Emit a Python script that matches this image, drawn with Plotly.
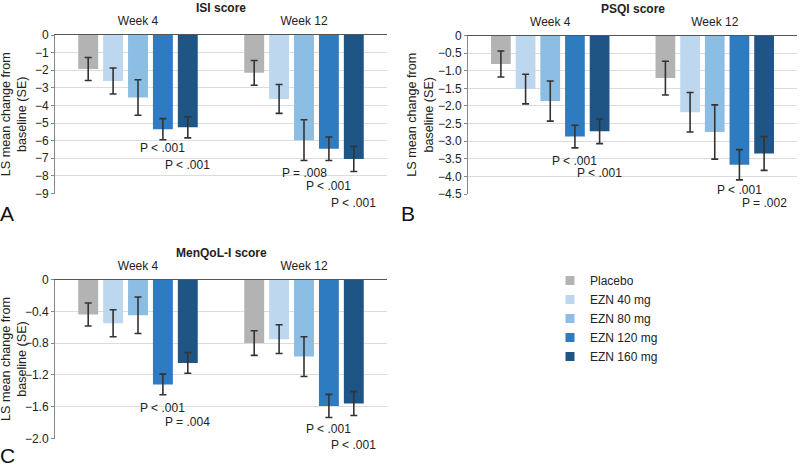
import plotly.graph_objects as go

W, H = 800, 467

weeks = ["Week 4", "Week 12"]
groups = ["Placebo", "EZN 40 mg", "EZN 80 mg", "EZN 120 mg", "EZN 160 mg"]
colors = ["#b3b3b3", "#bdd7ee", "#8cbde3", "#2e7bc0", "#1f5585"]

# LS mean change (per group: [Week 4, Week 12]) and SE
isi_mean = [[-1.93, -2.15], [-2.61, -3.63], [-3.55, -5.97], [-5.35, -6.46], [-5.24, -7.04]]
isi_se = [[0.65, 0.70], [0.74, 0.82], [1.01, 1.16], [0.60, 0.67], [0.60, 0.71]]
psqi_mean = [[-0.81, -1.21], [-1.52, -2.18], [-1.86, -2.74], [-2.87, -3.67], [-2.72, -3.35]]
psqi_se = [[0.37, 0.48], [0.42, 0.56], [0.57, 0.77], [0.32, 0.43], [0.35, 0.48]]
menq_mean = [[-0.44, -0.80], [-0.55, -0.75], [-0.45, -0.97], [-1.32, -1.59], [-1.05, -1.56]]
menq_se = [[0.145, 0.155], [0.17, 0.18], [0.23, 0.25], [0.13, 0.145], [0.13, 0.15]]

isi_ticks = [0, -1, -2, -3, -4, -5, -6, -7, -8, -9]
isi_ticktext = ["0", "−1", "−2", "−3", "−4", "−5", "−6", "−7", "−8", "−9"]
psqi_ticks = [0, -0.5, -1.0, -1.5, -2.0, -2.5, -3.0, -3.5, -4.0, -4.5]
psqi_ticktext = ["0", "−0.5", "−1.0", "−1.5", "−2.0", "−2.5", "−3.0", "−3.5", "−4.0", "−4.5"]
menq_ticks = [0, -0.4, -0.8, -1.2, -1.6, -2.0]
menq_ticktext = ["0", "−0.4", "−0.8", "−1.2", "−1.6", "−2.0"]

# P-value labels: (week, group index, text)
isi_p = [("Week 4", 3, "P < .001"), ("Week 4", 4, "P < .001"),
         ("Week 12", 2, "P = .008"), ("Week 12", 3, "P < .001"), ("Week 12", 4, "P < .001")]
psqi_p = [("Week 4", 3, "P < .001"), ("Week 4", 4, "P < .001"),
          ("Week 12", 3, "P < .001"), ("Week 12", 4, "P = .002")]
menq_p = [("Week 4", 3, "P < .001"), ("Week 4", 4, "P = .004"),
          ("Week 12", 3, "P < .001"), ("Week 12", 4, "P < .001")]

FONT = "Liberation Sans, Arial, sans-serif"
TXT = "#222222"

# layout (pixels)
panels = [
    dict(name="ISI score", means=isi_mean, ses=isi_se, ticks=isi_ticks, ticktext=isi_ticktext,
         rng=[-9, 0], px=(55, 387), py=(35, 193.5), pl=isi_p, p_y=[148, 165, 173, 186, 203],
         letter="A", lx=7, ly=213, ax="", ),
    dict(name="PSQI score", means=psqi_mean, ses=psqi_se, ticks=psqi_ticks, ticktext=psqi_ticktext,
         rng=[-4.5, 0], px=(468, 797), py=(35.5, 194), pl=psqi_p, p_y=[161, 173, 190, 203],
         letter="B", lx=408, ly=213, ax="2"),
    dict(name="MenQoL-I score", means=menq_mean, ses=menq_se, ticks=menq_ticks, ticktext=menq_ticktext,
         rng=[-2.0, 0], px=(55, 387), py=(279.5, 438.5), pl=menq_p, p_y=[408, 422, 429, 445],
         letter="C", lx=7, ly=455, ax="3"),
]

fig = go.Figure()
annotations = []

for pi, p in enumerate(panels):
    xa = "x" + p["ax"]
    ya = "y" + p["ax"]
    for gi, g in enumerate(groups):
        fig.add_trace(go.Bar(
            x=weeks, y=p["means"][gi], name=g, marker_color=colors[gi],
            marker_line_width=0, showlegend=False, offsetgroup=str(gi),
            error_y=dict(type="data", array=p["ses"][gi], color="#333333", thickness=1.6, width=3.5),
            xaxis=xa, yaxis=ya, hoverinfo="skip",
        ))
    x0, x1 = p["px"]
    y0, y1 = p["py"]
    xd = [x0 / W, x1 / W]
    yd = [1 - y1 / H, 1 - y0 / H]
    xkey = "xaxis" + p["ax"]
    ykey = "yaxis" + p["ax"]
    fig.layout[xkey] = dict(
        domain=xd, anchor=ya, side="top", type="category", automargin=False,
        showline=True, linecolor="#555555", linewidth=1.2, ticks="", showgrid=False,
        tickfont=dict(family=FONT, size=12, color=TXT), ticklabelstandoff=4,
        fixedrange=True,
    )
    fig.layout[ykey] = dict(
        domain=yd, anchor=xa, range=p["rng"], tickvals=p["ticks"], ticktext=p["ticktext"],
        automargin=False,
        showline=True, linecolor="#888888", linewidth=1, ticks="outside", ticklen=3,
        tickcolor="#888888", showgrid=True, gridcolor="#dcdcdc", gridwidth=1,
        zeroline=False, tickfont=dict(family=FONT, size=12, color=TXT), fixedrange=True,
    )
    # panel title
    annotations.append(dict(
        text="<b>" + p["name"] + "</b>", xref="paper", yref="paper",
        x=(x0 + x1) / 2 / W, y=1 - (y0 - 27) / H, xanchor="center", yanchor="middle",
        showarrow=False, font=dict(family=FONT, size=12, color=TXT),
    ))
    # y title
    ytitle_x = x0 - 41 if pi != 1 else x0 - 48
    annotations.append(dict(
        text="LS mean change from<br>baseline (SE)", xref="paper", yref="paper",
        x=ytitle_x / W, y=1 - (y0 + y1) / 2 / H, xanchor="center", yanchor="middle",
        textangle=-90, showarrow=False, font=dict(family=FONT, size=12.6, color=TXT),
    ))
    # letter
    annotations.append(dict(
        text=p["letter"], xref="paper", yref="paper", x=p["lx"] / W, y=1 - p["ly"] / H,
        xanchor="center", yanchor="middle", showarrow=False,
        font=dict(family=FONT, size=21, color="#111111"),
    ))
    # p labels
    slot = (x1 - x0) / 2 * 0.75 / 5
    for (wk, gi, txt), py in zip(p["pl"], p["p_y"]):
        annotations.append(dict(
            text=txt, xref=xa, yref="paper", x=wk, y=1 - py / H,
            xshift=(gi - 2) * slot, xanchor="center", yanchor="middle", showarrow=False,
            font=dict(family=FONT, size=12, color=TXT),
        ))

# legend entries
for gi, g in enumerate(groups):
    fig.add_trace(go.Scatter(
        x=[None], y=[None], mode="markers", name=g,
        marker=dict(symbol="square", size=9, color=colors[gi]),
        showlegend=True, xaxis="x", yaxis="y", hoverinfo="skip",
    ))

fig.update_layout(
    width=W, height=H, margin=dict(l=0, r=0, t=0, b=0, autoexpand=False),
    paper_bgcolor="white", plot_bgcolor="white",
    barmode="group", bargap=0.25, bargroupgap=0.2,
    annotations=annotations,
    legend=dict(x=550 / W, y=1 - 266 / H, xanchor="left", yanchor="top",
                font=dict(family=FONT, size=12, color=TXT), bgcolor="rgba(0,0,0,0)",
                itemwidth=30, tracegroupgap=0),
    showlegend=True,
)

fig.write_html(
    "out.html",
    config={"displayModeBar": False},
    post_script="document.body.style.margin='0';document.body.style.overflow='hidden';",
)
